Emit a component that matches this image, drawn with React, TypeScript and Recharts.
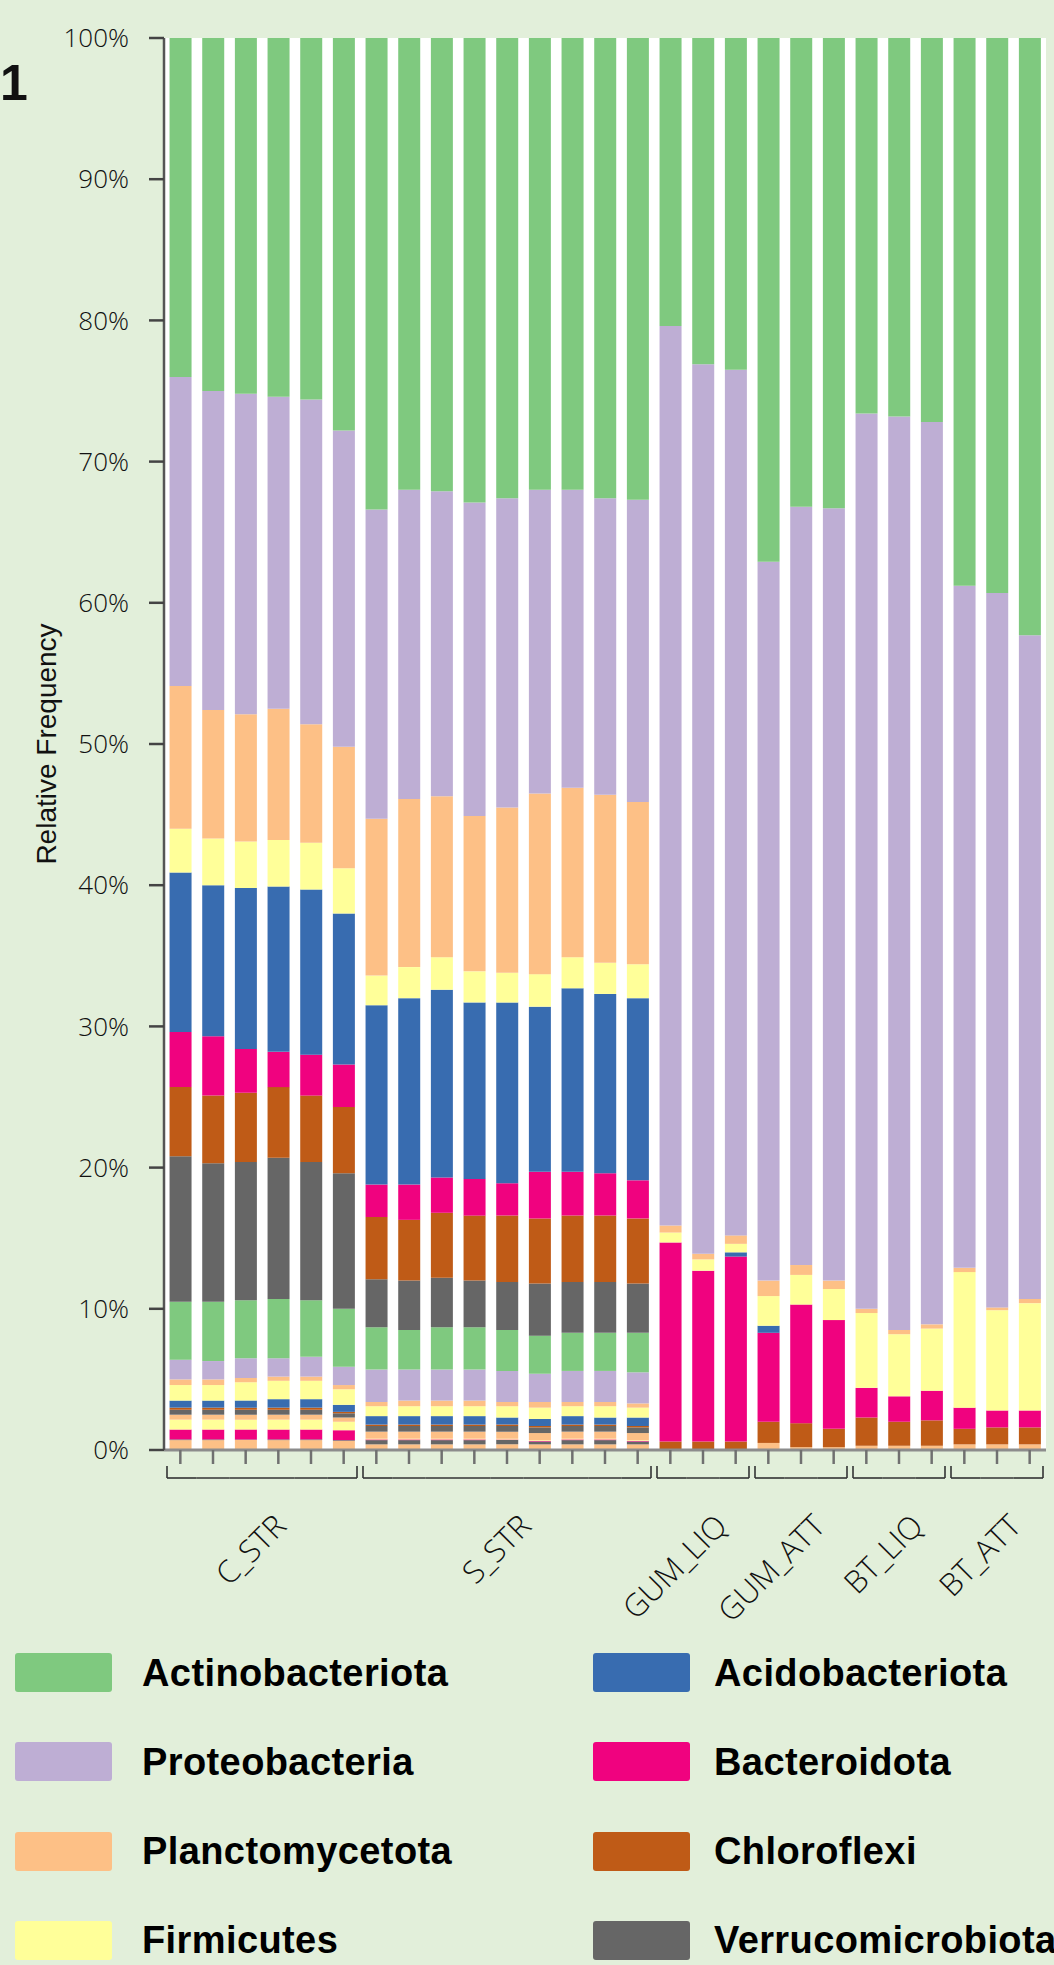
import React from "react";
import { BarChart, Bar, XAxis, YAxis, CartesianGrid } from "recharts";

// samples, in plot order
const samples = [
  "C_STR_1", "C_STR_2", "C_STR_3", "C_STR_4", "C_STR_5", "C_STR_6",
  "S_STR_1", "S_STR_2", "S_STR_3", "S_STR_4", "S_STR_5", "S_STR_6", "S_STR_7", "S_STR_8", "S_STR_9",
  "GUM_LIQ_1", "GUM_LIQ_2", "GUM_LIQ_3",
  "GUM_ATT_1", "GUM_ATT_2", "GUM_ATT_3",
  "BT_LIQ_1", "BT_LIQ_2", "BT_LIQ_3",
  "BT_ATT_1", "BT_ATT_2", "BT_ATT_3",
];
const groups = ["C_STR", "S_STR", "GUM_LIQ", "GUM_ATT", "BT_LIQ", "BT_ATT"];
const groupSizes = [6, 9, 3, 3, 3, 3];
const yTicks = [0, 10, 20, 30, 40, 50, 60, 70, 80, 90, 100];

// relative frequency (%) per sample
const actinobacteriota = [24.0, 25.0, 25.2, 25.4, 25.6, 27.8, 33.4, 32.0, 32.1, 32.9, 32.6, 32.0, 32.0, 32.6, 32.7, 20.4, 23.1, 23.5, 37.1, 33.2, 33.3, 26.6, 26.8, 27.2, 38.8, 39.3, 42.3];
const proteobacteria = [21.9, 22.6, 22.7, 22.1, 23.0, 22.4, 21.9, 21.9, 21.6, 22.2, 21.9, 21.5, 21.1, 21.0, 21.4, 63.7, 63.0, 61.3, 50.9, 53.7, 54.7, 63.4, 64.7, 63.9, 48.3, 50.6, 47.0];
const planctomycetota = [10.1, 9.1, 9.0, 9.3, 8.4, 8.6, 11.1, 11.9, 11.4, 11.0, 11.7, 12.8, 12.0, 11.9, 11.5, 0.5, 0.4, 0.6, 1.1, 0.7, 0.6, 0.3, 0.3, 0.3, 0.3, 0.2, 0.3];
const firmicutes = [3.1, 3.3, 3.3, 3.3, 3.3, 3.2, 2.1, 2.2, 2.3, 2.2, 2.1, 2.3, 2.2, 2.2, 2.4, 0.7, 0.8, 0.6, 2.1, 2.1, 2.2, 5.3, 4.4, 4.4, 9.6, 7.1, 7.6];
const acidobacteriota = [11.3, 10.7, 11.4, 11.7, 11.7, 10.7, 12.7, 13.2, 13.3, 12.5, 12.8, 11.7, 13.0, 12.7, 12.9, 0, 0, 0.3, 0.5, 0, 0, 0, 0, 0, 0, 0, 0];
const bacteroidota = [3.9, 4.2, 3.1, 2.5, 2.9, 3.0, 2.3, 2.5, 2.5, 2.6, 2.3, 3.3, 3.1, 3.0, 2.7, 14.1, 12.1, 13.1, 6.3, 8.4, 7.7, 2.1, 1.8, 2.1, 1.5, 1.2, 1.2];
const chloroflexi = [4.9, 4.8, 4.9, 5.0, 4.7, 4.7, 4.4, 4.3, 4.6, 4.6, 4.7, 4.6, 4.7, 4.7, 4.6, 0.6, 0.6, 0.6, 1.5, 1.7, 1.3, 2.0, 1.7, 1.8, 1.1, 1.2, 1.2];
const verrucomicrobiota = [10.3, 9.8, 9.8, 10.0, 9.8, 9.6, 3.4, 3.5, 3.5, 3.3, 3.4, 3.7, 3.6, 3.6, 3.5, 0, 0, 0, 0, 0, 0, 0, 0, 0, 0, 0, 0];

// unlabelled minor phyla (palette repeats in the original plot)
const minor1 = [4.1, 4.2, 4.1, 4.2, 4.0, 4.1, 3.0, 2.8, 3.0, 3.0, 2.9, 2.7, 2.7, 2.7, 2.8, 0, 0, 0, 0, 0, 0, 0, 0, 0, 0, 0, 0];
const minor2 = [1.4, 1.3, 1.4, 1.3, 1.4, 1.3, 2.3, 2.2, 2.2, 2.2, 2.2, 2.0, 2.2, 2.2, 2.2, 0, 0, 0, 0, 0, 0, 0, 0, 0, 0, 0, 0];
const minor3 = [0.4, 0.4, 0.3, 0.3, 0.3, 0.3, 0.3, 0.4, 0.4, 0.4, 0.3, 0.4, 0.3, 0.3, 0.3, 0, 0, 0, 0, 0, 0, 0, 0, 0, 0, 0, 0];
const minor4 = [1.1, 1.1, 1.3, 1.3, 1.3, 1.1, 0.7, 0.7, 0.7, 0.7, 0.8, 0.8, 0.7, 0.8, 0.7, 0, 0, 0, 0, 0, 0, 0, 0, 0, 0, 0, 0];
const minor5 = [0.5, 0.5, 0.5, 0.6, 0.6, 0.5, 0.6, 0.6, 0.6, 0.6, 0.5, 0.5, 0.6, 0.5, 0.6, 0, 0, 0, 0, 0, 0, 0, 0, 0, 0, 0, 0];
const minor6 = [0.15, 0.15, 0.15, 0.15, 0.15, 0.1, 0.1, 0.1, 0.1, 0.1, 0.1, 0.1, 0.1, 0.1, 0.1, 0, 0, 0, 0, 0, 0, 0, 0, 0, 0, 0, 0];
const minor7 = [0.35, 0.35, 0.35, 0.35, 0.35, 0.3, 0.4, 0.4, 0.4, 0.4, 0.4, 0.4, 0.4, 0.4, 0.4, 0, 0, 0, 0, 0, 0, 0, 0, 0, 0, 0, 0];
const minor8 = [0.35, 0.35, 0.35, 0.35, 0.35, 0.3, 0.5, 0.5, 0.5, 0.5, 0.5, 0.5, 0.5, 0.5, 0.5, 0, 0, 0, 0, 0, 0, 0, 0, 0, 0, 0, 0];
const minor9 = [0.7, 0.7, 0.7, 0.7, 0.7, 0.6, 0.05, 0.05, 0.05, 0.05, 0.05, 0.05, 0.05, 0.05, 0.05, 0, 0, 0, 0, 0, 0, 0, 0, 0, 0, 0, 0];
const minor10 = [0.7, 0.7, 0.7, 0.7, 0.7, 0.7, 0.05, 0.05, 0.05, 0.05, 0.05, 0.05, 0.05, 0.05, 0.05, 0, 0, 0, 0, 0, 0, 0, 0, 0, 0, 0, 0];
const minor11 = [0.05, 0.05, 0.05, 0.05, 0.05, 0.05, 0.3, 0.3, 0.3, 0.3, 0.3, 0.2, 0.3, 0.3, 0.2, 0, 0, 0, 0, 0, 0, 0, 0, 0, 0, 0, 0];
const minor12 = [0.7, 0.7, 0.7, 0.7, 0.7, 0.65, 0.4, 0.4, 0.4, 0.4, 0.4, 0.4, 0.4, 0.4, 0.4, 0, 0, 0, 0.5, 0.2, 0.2, 0.3, 0.3, 0.3, 0.4, 0.4, 0.4];

// Accent palette
const GREEN = "#7fc97f";
const PURPLE = "#beaed4";
const ORANGE = "#fdc086";
const YELLOW = "#ffff99";
const BLUE = "#386cb0";
const PINK = "#f0027f";
const BROWN = "#bf5b17";
const GREY = "#666666";

// top of stack first
const series = [
  { key: "Actinobacteriota", color: GREEN, values: actinobacteriota, legend: true },
  { key: "Proteobacteria", color: PURPLE, values: proteobacteria, legend: true },
  { key: "Planctomycetota", color: ORANGE, values: planctomycetota, legend: true },
  { key: "Firmicutes", color: YELLOW, values: firmicutes, legend: true },
  { key: "Acidobacteriota", color: BLUE, values: acidobacteriota, legend: true },
  { key: "Bacteroidota", color: PINK, values: bacteroidota, legend: true },
  { key: "Chloroflexi", color: BROWN, values: chloroflexi, legend: true },
  { key: "Verrucomicrobiota", color: GREY, values: verrucomicrobiota, legend: true },
  { key: "minor1", color: GREEN, values: minor1, legend: false },
  { key: "minor2", color: PURPLE, values: minor2, legend: false },
  { key: "minor3", color: ORANGE, values: minor3, legend: false },
  { key: "minor4", color: YELLOW, values: minor4, legend: false },
  { key: "minor5", color: BLUE, values: minor5, legend: false },
  { key: "minor6", color: BROWN, values: minor6, legend: false },
  { key: "minor7", color: GREY, values: minor7, legend: false },
  { key: "minor8", color: ORANGE, values: minor8, legend: false },
  { key: "minor9", color: YELLOW, values: minor9, legend: false },
  { key: "minor10", color: PINK, values: minor10, legend: false },
  { key: "minor11", color: GREY, values: minor11, legend: false },
  { key: "minor12", color: ORANGE, values: minor12, legend: false },
];

const rows = samples.map((s, i) => {
  const row: Record<string, any> = { sample: s };
  series.forEach((sr) => (row[sr.key] = sr.values[i]));
  return row;
});

// which group each sample belongs to, and its position in it
const sampleGroup: { g: number; k: number; n: number }[] = [];
groupSizes.forEach((n, g) => {
  for (let k = 0; k < n; k++) sampleGroup.push({ g, k, n });
});

const CHART_W = 1054;
const CHART_H = 1630;
const Y_AXIS_W = 164;
const RIGHT = 8;
const BAND = (CHART_W - Y_AXIS_W - RIGHT) / samples.length;

const tickFont = "'Open Sans', 'DejaVu Sans', sans-serif";

function GroupTick(props: any) {
  const { x, y, payload } = props;
  const info = sampleGroup[payload.index];
  if (!info) return null;
  const first = info.k === 0;
  const last = info.k === info.n - 1;
  const by = y + 12;
  const left = x - BAND / 2 + (first ? 3 : 0);
  const right = x + BAND / 2 - (last ? 3 : 0);
  const cx = x + ((info.n - 1) / 2) * BAND;
  const lx = cx + 26;
  const ly = by + 50;
  return (
    <g>
      <line x1={left} x2={right} y1={by} y2={by} stroke="#333" strokeWidth={1.6} />
      {first && <line x1={left} x2={left} y1={by - 12} y2={by} stroke="#333" strokeWidth={1.6} />}
      {last && <line x1={right} x2={right} y1={by - 12} y2={by} stroke="#333" strokeWidth={1.6} />}
      {first && (
        <text
          x={lx}
          y={ly}
          transform={`rotate(-45, ${lx}, ${ly})`}
          textAnchor="end"
          fontSize={31}
          fontWeight={300}
          fontFamily={tickFont}
          fill="#111"
        >
          {groups[info.g]}
        </text>
      )}
    </g>
  );
}

export default function App() {
  const legendItems = series.filter((s) => s.legend);
  return (
    <div
      style={{
        position: "relative",
        width: 1054,
        height: 1965,
        background: "#e2efda",
        overflow: "hidden",
        fontFamily: "'Liberation Sans', Arial, sans-serif",
      }}
    >
      <style>{"body{margin:0}"}</style>
      <div
        style={{
          position: "absolute",
          left: 0,
          top: 58,
          fontSize: 50,
          lineHeight: 1,
          fontWeight: 700,
          color: "#111",
        }}
      >
        1
      </div>

      <div style={{ position: "absolute", left: 0, top: 0 }}>
        <BarChart
          width={CHART_W}
          height={CHART_H}
          data={rows}
          margin={{ top: 38, right: RIGHT, bottom: 20, left: 0 }}
          barCategoryGap="17%"
        >
          <CartesianGrid horizontal={false} vertical={false} fill="#ffffff" />
          <XAxis
            dataKey="sample"
            height={160}
            interval={0}
            tickSize={14}
            tickLine={{ stroke: "#707070", strokeWidth: 2.5 }}
            axisLine={{ stroke: "#8c8c8c", strokeWidth: 3 }}
            tick={(p: any) => <GroupTick {...p} />}
          />
          <YAxis
            width={Y_AXIS_W}
            type="number"
            domain={[0, 100]}
            allowDataOverflow
            ticks={yTicks}
            interval={0}
            tickFormatter={(v: number) => `${v}%`}
            tickSize={15}
            tickMargin={20}
            tickLine={{ stroke: "#444", strokeWidth: 2.5 }}
            axisLine={{ stroke: "#555", strokeWidth: 2.5 }}
            tick={{ fill: "#111", fontSize: 26, fontWeight: 300, fontFamily: tickFont }}
            label={{
              value: "Relative Frequency",
              angle: -90,
              position: "insideLeft",
              offset: 46,
              style: {
                textAnchor: "middle",
                fontSize: 28,
                fill: "#111",
                fontFamily: "'Liberation Sans', Arial, sans-serif",
              },
            }}
          />
          {[...series].reverse().map((sr) => (
            <Bar
              key={sr.key}
              dataKey={sr.key}
              stackId="a"
              fill={sr.color}
              isAnimationActive={false}
            />
          ))}
        </BarChart>
      </div>

      {legendItems.map((item, i) => {
        const col = Math.floor(i / 4);
        const row = i % 4;
        const top = 1653 + row * 89.3;
        return (
          <React.Fragment key={item.key}>
            <div
              style={{
                position: "absolute",
                left: col ? 593 : 15,
                top,
                width: 97,
                height: 39,
                borderRadius: 3,
                background: item.color,
              }}
            />
            <div
              style={{
                position: "absolute",
                left: col ? 714 : 142,
                top: top + 19.5 - 22,
                height: 44,
                lineHeight: "44px",
                fontSize: 38,
                letterSpacing: 0.4,
                fontWeight: 700,
                color: "#000",
                whiteSpace: "nowrap",
              }}
            >
              {item.key}
            </div>
          </React.Fragment>
        );
      })}
    </div>
  );
}
